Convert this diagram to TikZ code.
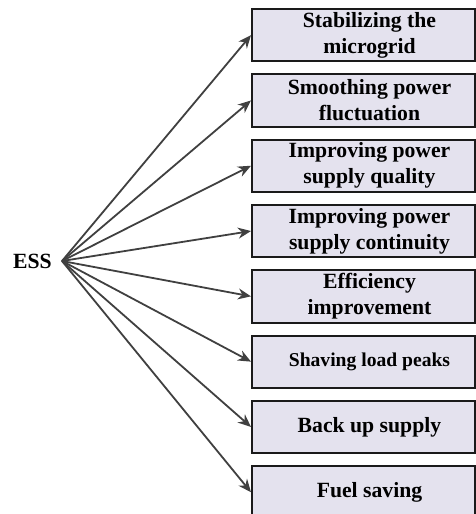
\documentclass[tikz,border=0pt]{standalone}
\usepackage{fontspec}
\setmainfont{Liberation Serif}
\usetikzlibrary{arrows.meta}
\definecolor{boxfill}{HTML}{E4E2EE}
\definecolor{boxline}{HTML}{1A1A1A}
\definecolor{arrowcol}{HTML}{404040}
\tikzset{
  benefit/.style={draw=boxline, line width=2pt, fill=boxfill, rectangle,
    minimum width=223pt, minimum height=52.3pt, inner sep=0pt, anchor=north west},
  btext/.style={font=\bfseries\fontsize{21.7}{26}\selectfont, align=center, inner sep=0pt},
  stext/.style={font=\bfseries\fontsize{19.6}{24}\selectfont, align=center, inner sep=0pt},
  link/.style={draw=arrowcol, line width=1.8pt, -{Stealth[length=13pt,width=11pt]}},
}
\begin{document}
\begin{tikzpicture}[x=1pt,y=-1pt]
\useasboundingbox (0,0) rectangle (475,514);
\node[font=\bfseries\fontsize{21.7}{26}\selectfont, inner sep=0pt] (ess) at (32.5,261) {ESS};
\coordinate (hub) at (62,261);
\foreach \i/\t/\s in {1/{Stabilizing the\\microgrid}/btext,
                      2/{Smoothing power\\fluctuation}/btext,
                      3/{Improving power\\supply quality}/btext,
                      4/{Improving power\\supply continuity}/btext,
                      5/{Efficiency\\improvement}/btext,
                      6/{Shaving load peaks}/stext,
                      7/{Back up supply}/btext,
                      8/{Fuel saving}/btext}{
  \node[benefit] (b\i) at (251, {8+65.3*(\i-1)}) {};
  \node[\s] (t\i) at ([xshift=6pt]b\i.center) {\t};
  \draw[link] (hub) -- (b\i.west);
}
\end{tikzpicture}
\end{document}
